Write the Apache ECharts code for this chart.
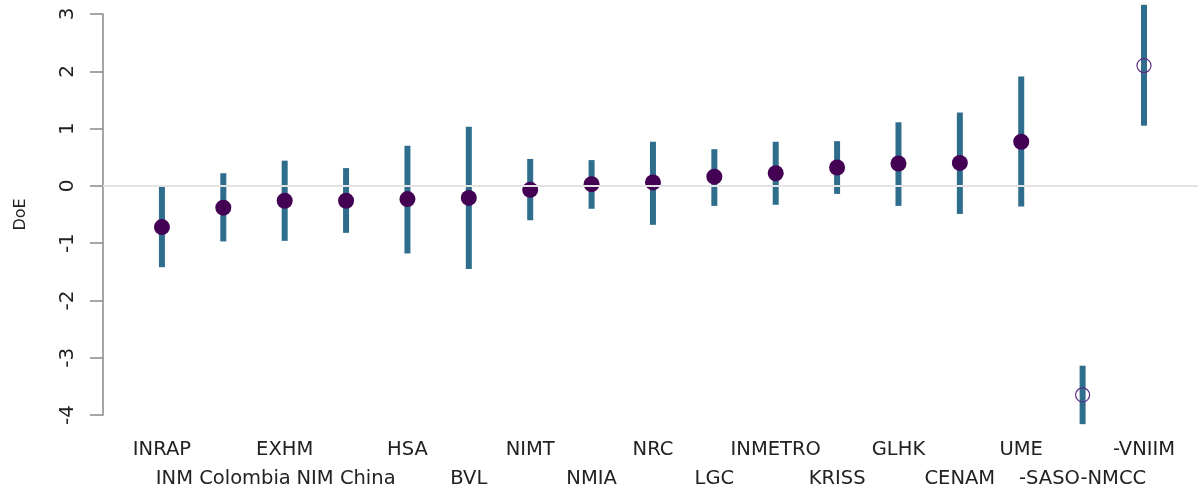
<!DOCTYPE html>
<html><head><meta charset="utf-8">
<script src="https://cdn.jsdelivr.net/npm/echarts@6/dist/echarts.min.js"></script>
<style>html,body{margin:0;padding:0;background:#fff}#c{width:1200px;height:490px}</style>
</head><body><div id="c"></div>
<script>
var labs = ['INRAP','INM Colombia','EXHM','NIM China','HSA','BVL','NIMT','NMIA','NRC','LGC','INMETRO','KRISS','GLHK','CENAM','UME','-SASO-NMCC','-VNIIM'];
var doe = [-0.72,-0.38,-0.26,-0.26,-0.23,-0.21,-0.07,0.03,0.06,0.16,0.22,0.32,0.39,0.40,0.77,-3.65,2.10];
var lower = [-1.42,-0.97,-0.96,-0.82,-1.18,-1.45,-0.60,-0.40,-0.68,-0.35,-0.33,-0.14,-0.35,-0.49,-0.36,-4.16,1.05];
var upper = [-0.02,0.22,0.44,0.31,0.70,1.03,0.47,0.45,0.77,0.64,0.77,0.78,1.11,1.28,1.91,-3.14,3.16];
var excluded = [false,false,false,false,false,false,false,false,false,false,false,false,false,false,false,true,true];
var yTicks = [-4,-3,-2,-1,0,1,2,3];

var pos = labs.map(function(_, i){ return i + 1; });
var topRow = pos.filter(function(p){ return p % 2 === 1; });
var bottomRow = pos.filter(function(p){ return p % 2 === 0; });
var bars = pos.map(function(p, i){ return [p, lower[i], upper[i]]; });
var filled = [], hollow = [];
pos.forEach(function(p, i){ (excluded[i] ? hollow : filled).push([p, doe[i]]); });

function xAx(vals, margin){
  return {
    type: 'value', min: 0.04, max: 17.88, position: 'bottom',
    axisLine: {show: false}, axisTick: {show: false}, splitLine: {show: false},
    axisLabel: {
      customValues: vals, hideOverlap: false,
      margin: margin,
      fontFamily: 'DejaVu Sans', fontSize: 19.5, color: '#222', lineHeight: 29,
      formatter: function(v){ return labs[Math.round(v) - 1]; }
    }
  };
}

var chart = echarts.init(document.getElementById('c'));
chart.setOption({
  animation: false,
  grid: {left: 103, right: 2, top: 14, bottom: 75, outerBoundsMode: 'none'},
  xAxis: [xAx(topRow, 20), xAx(bottomRow, 49)],
  yAxis: {
    type: 'value', min: -4, max: 3, interval: 1,
    name: 'DoE', nameLocation: 'middle', nameGap: 74,
    nameTextStyle: {fontFamily: 'DejaVu Sans', fontSize: 16, color: '#222'},
    axisLine: {show: true, lineStyle: {color: '#888', width: 1.5}},
    axisTick: {show: true, length: 13, lineStyle: {color: '#888', width: 1.5}},
    splitLine: {show: false},
    axisLabel: {rotate: 90, margin: 25, fontFamily: 'DejaVu Sans', fontSize: 20, color: '#222',
      customValues: yTicks}
  },
  series: [
    {
      type: 'custom', clip: false, xAxisIndex: 0,
      data: bars,
      renderItem: function(params, api){
        var a = api.coord([api.value(0), api.value(1)]);
        var b = api.coord([api.value(0), api.value(2)]);
        return {type: 'line', shape: {x1: a[0], y1: a[1], x2: b[0], y2: b[1]},
          style: {stroke: '#2f6d8d', lineWidth: 6, lineCap: 'butt'}};
      },
      markLine: {
        silent: true, symbol: ['none','none'], label: {show: false},
        lineStyle: {color: '#e3e3e3', width: 2, type: 'solid'},
        data: [{yAxis: 0}]
      },
      z: 2
    },
    {
      type: 'scatter', data: filled, symbol: 'circle', symbolSize: 16, xAxisIndex: 0,
      itemStyle: {color: '#440154', opacity: 1}, z: 3
    },
    {
      type: 'scatter', data: hollow, symbol: 'circle', symbolSize: 14, xAxisIndex: 0,
      itemStyle: {color: 'rgba(0,0,0,0)', borderColor: '#5d2d86', borderWidth: 1.2, opacity: 1}, z: 3
    }
  ]
});
</script></body></html>
